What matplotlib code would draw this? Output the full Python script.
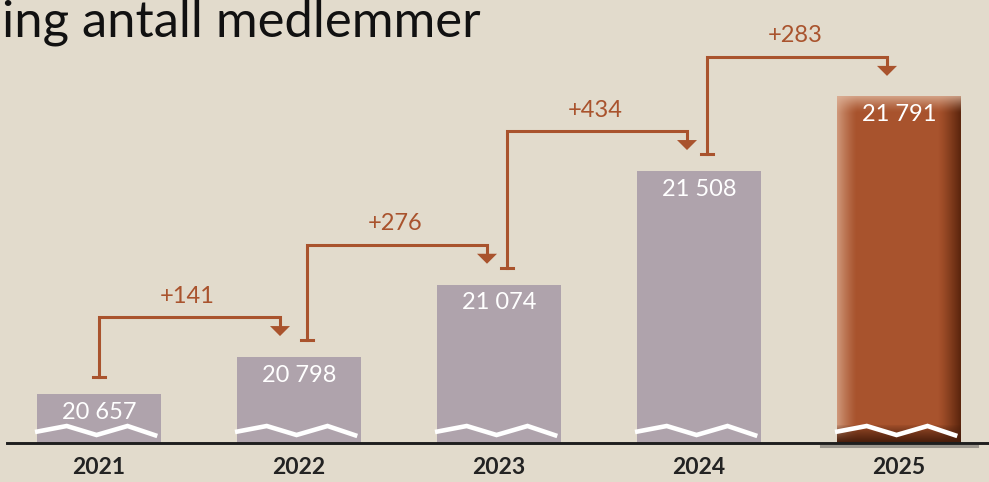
import numpy as np
import matplotlib
matplotlib.use('Agg')
import matplotlib.pyplot as plt
from matplotlib.patches import Polygon, FancyBboxPatch
from matplotlib.transforms import IdentityTransform

# ---------------- data ----------------
title = 'ing antall medlemmer'
years = ['2021', '2022', '2023', '2024', '2025']
members = [20657, 20798, 21074, 21508, 21791]
member_labels = ['20 657', '20 798', '21 074', '21 508', '21 791']
change_labels = ['+141', '+276', '+434', '+283']

# ---------------- style ----------------
DPI = 100
W_PX, H_PX = 989, 482
BG = '#E2DBCC'
GREY = '#AFA3AC'
RUST = '#A9532D'
DARK = '#1E1E1E'
FONT = ['Lato', 'DejaVu Sans']

BASE_PX = 39            # baseline distance from bottom (px)
Y_BASE = 20470          # broken axis start value
PX_PER_MEMBER = 0.262
BAR_W = 0.62

fig = plt.figure(figsize=(W_PX / DPI, H_PX / DPI), dpi=DPI)
fig.patch.set_facecolor(BG)
ax = fig.add_axes([0, BASE_PX / H_PX, 1, (H_PX - BASE_PX) / H_PX])
ax.set_facecolor('none')
ax.axis('off')
ax.set_xlim(-0.495, 4.45)
ax.set_ylim(Y_BASE, Y_BASE + (H_PX - BASE_PX) / PX_PER_MEMBER)

x = np.arange(len(years))
heights = np.array(members) - Y_BASE
ident = IdentityTransform()


def px(xd, yd):
    return ax.transData.transform((xd, yd))


# ---------------- bars ----------------
ax.bar(x[:-1], heights[:-1], bottom=Y_BASE, width=BAR_W, color=GREY, zorder=2)

# highlighted last bar with soft glow + gradient
xl, yb = px(x[-1] - BAR_W / 2, Y_BASE)
xr, yt = px(x[-1] + BAR_W / 2, members[-1])
for k in range(24, 0, -1):
    glow = FancyBboxPatch((xl - k, yb - 2), (xr - xl) + 2 * k, (yt - yb) + k + 2,
                          boxstyle='round,pad=0,rounding_size=%d' % k,
                          transform=ident, facecolor='#F3EEE3', edgecolor='none',
                          alpha=0.035, zorder=1, clip_on=False)
    ax.add_artist(glow)

wpx, hpx = int(round(xr - xl)), int(round(yt - yb))
base = np.array([168, 83, 45], float)
light = np.array([208, 152, 122], float)
lighttop = np.array([222, 180, 155], float)
dark = np.array([92, 38, 14], float)
darkbot = np.array([72, 30, 12], float)
img = np.tile(base, (hpx, wpx, 1))
cols = np.arange(wpx)
fl = np.clip(1 - cols / 20, 0, 1) ** 1.3
fr = np.clip(1 - (wpx - 1 - cols) / 22, 0, 1) ** 1.2
img = img * (1 - fl[None, :, None]) + light * fl[None, :, None]
img = img * (1 - fr[None, :, None]) + dark * fr[None, :, None]
rows = np.arange(hpx)
ft = 0.8 * np.clip(1 - rows / 16, 0, 1) ** 1.3
img = img * (1 - ft[:, None, None]) + lighttop * ft[:, None, None]
fb = np.clip(1 - (hpx - 1 - rows) / 18, 0, 1) ** 0.8
img = img * (1 - fb[:, None, None]) + darkbot * fb[:, None, None]
ax.imshow(img.astype(np.uint8), extent=(x[-1] - BAR_W / 2, x[-1] + BAR_W / 2, Y_BASE, members[-1]),
          aspect='auto', interpolation='bilinear', zorder=2)

# ---------------- axis-break zigzags ----------------
zz_fx = [-0.016, 0.24, 0.48, 0.73, 0.97]
zz_dy = [11, 17, 8, 17, 7]
for xi in x:
    l, b0 = px(xi - BAR_W / 2, Y_BASE)
    r, _ = px(xi + BAR_W / 2, Y_BASE)
    xs = [l + f * (r - l) for f in zz_fx]
    ys = [b0 + d for d in zz_dy]
    ax.plot(xs, ys, color='white', lw=3.3, transform=ident, zorder=4,
            solid_joinstyle='miter', solid_capstyle='butt', clip_on=False)

# ---------------- baseline ----------------
_, b0 = px(0, Y_BASE)
ax.plot([7, W_PX], [b0, b0], color=DARK, lw=2.1, transform=ident, zorder=5, clip_on=False)
ax.plot([xl - 16, xr + 16], [b0 - 2.5, b0 - 2.5], color='#6E6A66', lw=2.2, alpha=0.6,
        transform=ident, zorder=4, clip_on=False)

# ---------------- value labels ----------------
for xi, v, lab in zip(x, members, member_labels):
    cx, ty = px(xi, v)
    ax.text(cx, ty - 18, lab, transform=ident, ha='center', va='center',
            color='white', fontsize=17, family=FONT, zorder=6)

# ---------------- year labels ----------------
for xi, yl in zip(x, years):
    cx, _ = px(xi, Y_BASE)
    ax.text(cx, b0 - 24, yl, transform=ident, ha='center', va='center',
            color='#232323', fontsize=16.5, fontweight='bold', family=FONT, zorder=6)

# ---------------- change connectors ----------------
LW_C = 2.2
for i, lab in enumerate(change_labels):
    sx, sy_top = px(x[i], members[i])
    ex, ey_top = px(x[i + 1], members[i + 1])
    sx = sx + (0 if i == 0 else 8)
    ex = ex - (19 if i == 0 else 12)
    cap_y = sy_top + 17
    hor_y = ey_top + 40
    tip_y = ey_top + 21
    ax.plot([sx, sx, ex, ex], [cap_y, hor_y, hor_y, tip_y + 9], color=RUST, lw=LW_C,
            transform=ident, zorder=5, solid_joinstyle='miter', clip_on=False)
    ax.plot([sx - 6, sx + 6], [cap_y, cap_y], color=RUST, lw=LW_C, transform=ident,
            zorder=5, clip_on=False)
    tri = Polygon([[ex - 10, tip_y + 10], [ex + 10, tip_y + 10], [ex, tip_y]], closed=True,
                  facecolor=RUST, edgecolor='none', transform=ident, zorder=5)
    ax.add_artist(tri)
    ax.text((sx + ex) / 2 - 2, hor_y + 21, lab, transform=ident, ha='center', va='center',
            color=RUST, fontsize=17, family=FONT, zorder=6)

# ---------------- title ----------------
fig.text(2 / W_PX, 1 - 37 / H_PX, title, ha='left', va='baseline', color='#111111',
         fontsize=36.5, fontweight='normal', family=FONT)

fig.savefig('out.png', dpi=DPI, facecolor=BG)
